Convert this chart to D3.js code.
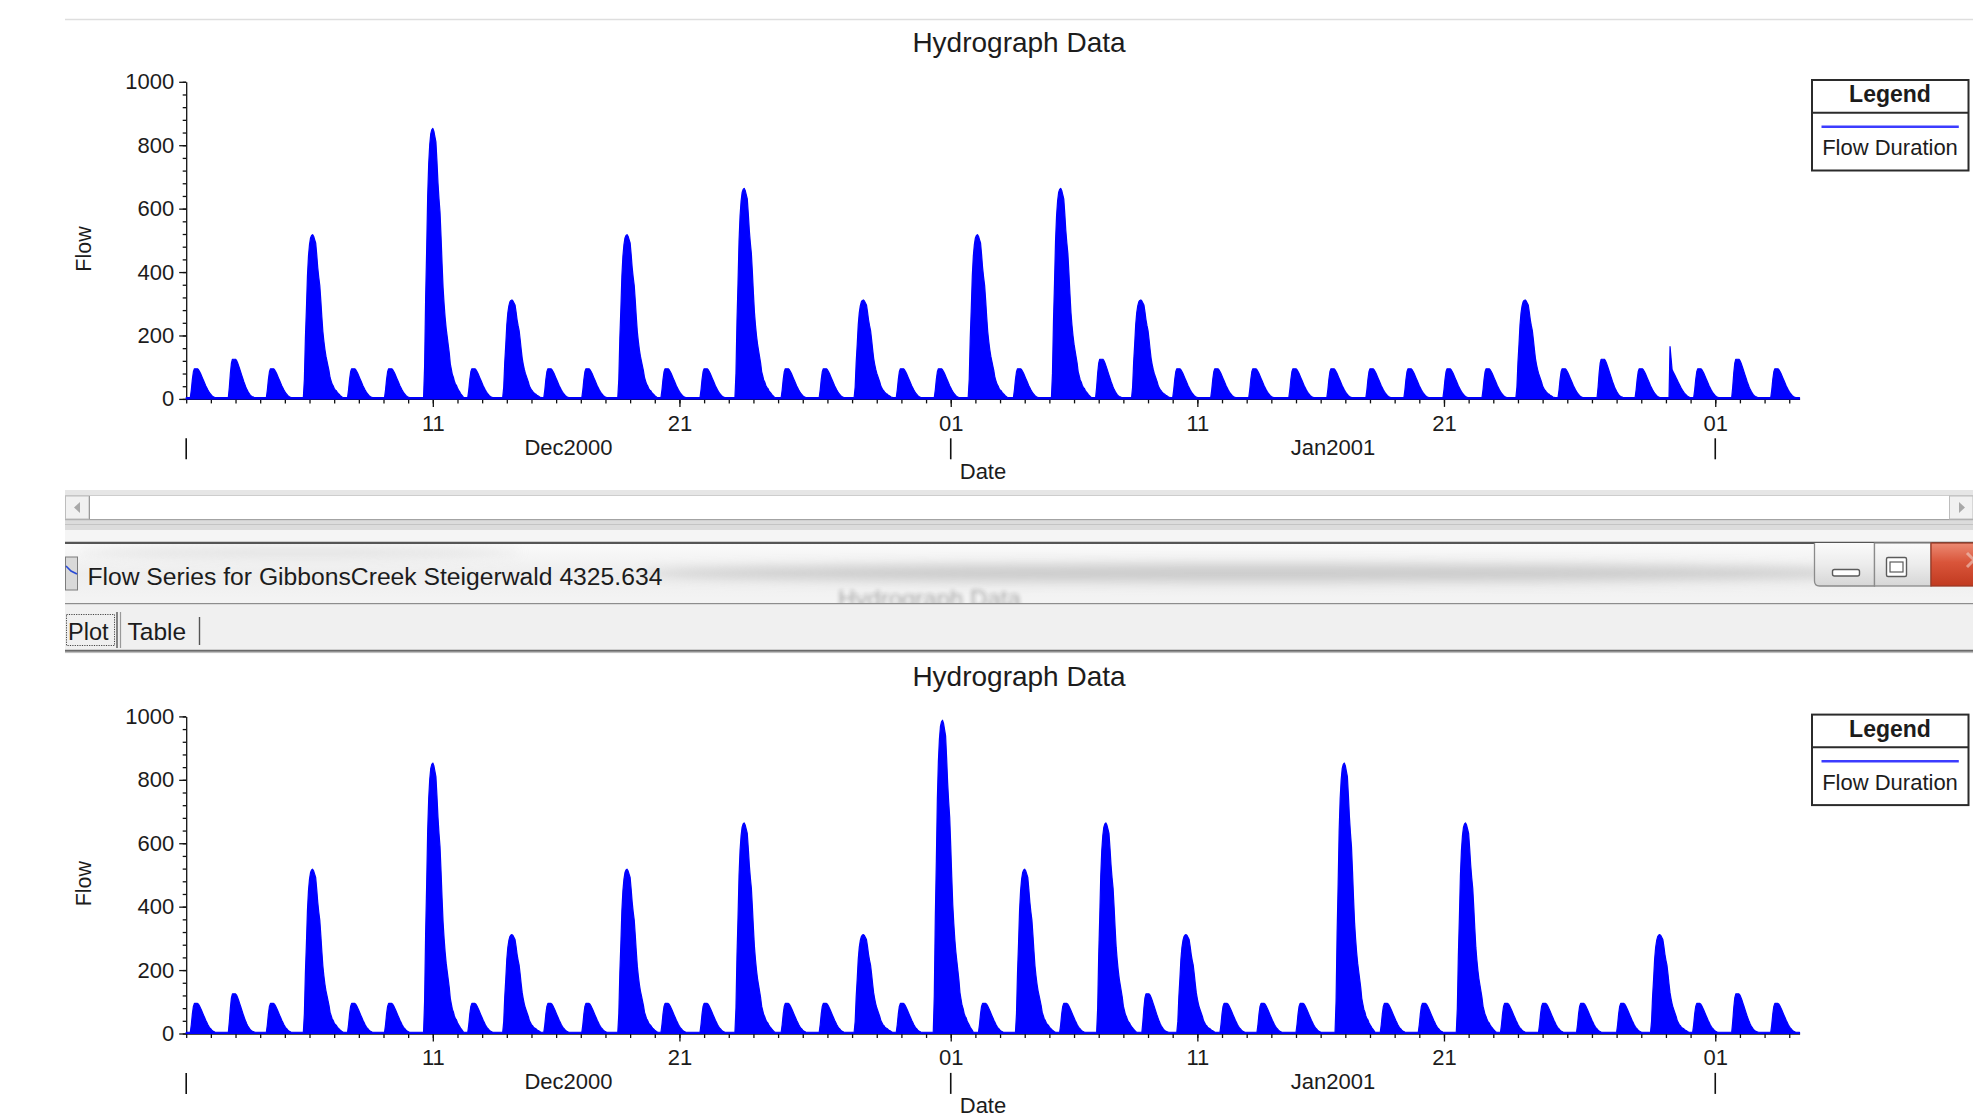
<!DOCTYPE html>
<html lang="en">
<head>
  <meta charset="utf-8" />
  <title>Flow Series for GibbonsCreek Steigerwald 4325.634</title>

  <!---- D3 v7 CDN -->
  <script src="https://cdn.jsdelivr.net/npm/d3@7"></script>

  <style>
    body { margin:0; background:#fff; }
    svg text { font-family:"Liberation Sans", Arial, Helvetica, sans-serif; fill:#1c1c1c; }
    .axis path, .axis line { stroke:#111; stroke-width:1.3; }
    .axis text { font-size:22px; fill:#1c1c1c; }
  </style>
</head>
<body>
<svg id="win" width="1973" height="1113"></svg>

<script>
(function () {

  // --- data ------------------------------------------------------------------
  // days after 01 Dec 2000 where each runoff pulse peaks, and the peak flow
  const topPeakDays  = [0.42, 1.97, 3.51, 5.14, 6.79, 8.31, 9.98, 11.65, 13.19, 14.74,
                        16.30, 17.86, 19.51, 21.10, 22.64, 24.38, 25.92, 27.44, 29.03, 30.57,
                        32.09, 33.78, 35.44, 37.13, 38.69, 40.23, 41.81, 43.35, 44.95, 46.49,
                        48.09, 49.63, 51.19, 52.79, 54.29, 55.89, 57.45, 58.99, 61.38, 62.90,
                        64.48];
  const topPeakFlows = [95, 125, 95, 518, 95, 95, 853, 95, 312, 95,
                        95, 518, 95, 95, 664, 95, 95, 312, 95, 95,
                        518, 95, 664, 125, 312, 95, 95, 95, 95, 95,
                        95, 95, 95, 95, 312, 95, 125, 95, 95, 125,
                        95];
  // the single sharp spike late in January (top plot only)
  const topSpikeDays  = [60.17];
  const topSpikeFlows = [165];

  const botPeakDays  = [0.42, 1.97, 3.51, 5.14, 6.79, 8.31, 9.98, 11.65, 13.19, 14.74,
                        16.30, 17.86, 19.51, 21.10, 22.64, 24.38, 25.92, 27.44, 29.03, 30.66,
                        32.37, 33.99, 35.66, 37.30, 39.01, 40.55, 42.15, 43.65, 45.25, 46.96,
                        48.67, 50.19, 51.88, 53.54, 55.10, 56.64, 58.24, 59.74, 61.34, 62.90,
                        64.48];
  const botPeakFlows = [95, 125, 95, 518, 95, 95, 853, 95, 312, 95,
                        95, 518, 95, 95, 664, 95, 95, 312, 95, 988,
                        95, 518, 95, 664, 125, 312, 95, 95, 95, 853,
                        95, 95, 664, 95, 95, 95, 95, 312, 95, 125,
                        95];
  const botSpikeDays  = [];
  const botSpikeFlows = [];

  // hourly pulse shapes (fraction of peak)
  const shapeSmall = [0.03, 0.3, 0.65, 0.9, 1, 1, 1, 1, 0.97, 0.91, 0.84, 0.76, 0.68, 0.6,
                      0.52, 0.44, 0.37, 0.3, 0.24, 0.19, 0.15, 0.11, 0.08, 0.06, 0.05, 0.04];
  const smallPeakAt = 6;
  const shapeLarge = [0.0, 0.12, 0.37, 0.55, 0.75, 0.87, 0.94, 0.98, 0.995, 1, 0.99, 0.97,
                      0.95, 0.88, 0.8, 0.74, 0.69, 0.6, 0.5, 0.41, 0.35, 0.3, 0.26, 0.23,
                      0.2, 0.17, 0.13, 0.11, 0.09, 0.08, 0.065, 0.055, 0.05, 0.04, 0.033,
                      0.027, 0.02, 0.015, 0.01];
  const largePeakAt = 9;
  const shapeSpike = [0.02, 1, 0.78, 0.56, 0.52, 0.48, 0.44, 0.4, 0.36, 0.32, 0.28, 0.24, 0.2,
                      0.17, 0.14, 0.11, 0.09, 0.07, 0.05, 0.04, 0.03];
  const spikePeakAt = 1;
  const baseFlow = 4;

  const seriesStart = Date.UTC(2000, 11, 1);
  const seriesDays  = 65.42;

  const yTickValues   = [0, 200, 400, 600, 800, 1000];
  const dayLabelDates = ["2000-12-11", "2000-12-21", "2001-01-01", "2001-01-11", "2001-01-21", "2001-02-01"];
  const monthStarts   = ["2000-12-01", "2001-01-01", "2001-02-01"];
  const monthNames    = ["Dec2000", "Jan2001"];

  // --- helpers ---------------------------------------------------------------
  const svg = d3.select("#win");
  const parse = d3.utcParse("%Y-%m-%d");

  function buildSeries(days, flows, spikeDays, spikeFlows) {
    const nHours = Math.floor(seriesDays * 24);
    const vals = new Array(nHours + 1).fill(baseFlow);
    const stamp = (d, f, shape, at) => {
      const h0 = Math.round(d * 24);
      shape.forEach((s, i) => {
        const h = h0 + i - at;
        if (h >= 0 && h <= nHours) vals[h] = Math.max(vals[h], f * s);
      });
    };
    days.forEach((d, i) => {
      const f = flows[i];
      if (f < 200) stamp(d, f, shapeSmall, smallPeakAt);
      else stamp(d, f, shapeLarge, largePeakAt);
    });
    spikeDays.forEach((d, i) => stamp(d, spikeFlows[i], shapeSpike, spikePeakAt));
    return vals.map((v, h) => ({ t: new Date(seriesStart + h * 3600e3), v }));
  }

  // --- scales (shared by both plots) -----------------------------------------
  const plot = { left: 186.2, right: 1799.6, top: 81.8, bottom: 398.9 };
  const x = d3.scaleUtc()
    .domain([new Date(seriesStart), new Date(seriesStart + seriesDays * 864e5)])
    .range([plot.left, plot.right]);
  const y = d3.scaleLinear().domain([0, 1000]).range([plot.bottom, plot.top]);

  const area = d3.area()
    .x(d => x(d.t))
    .y0(y(0))
    .y1(d => y(d.v));

  // --- one "Hydrograph Data" panel -------------------------------------------
  function drawPanel(dy, series) {
    const g = svg.append("g").attr("transform", `translate(0,${dy})`);

    g.append("text")
      .attr("x", 1019).attr("y", 51.7)
      .attr("text-anchor", "middle")
      .attr("font-size", 28)
      .text("Hydrograph Data");

    // y axis: minor then major
    g.append("g").attr("class", "axis")
      .attr("transform", `translate(${plot.left},0)`)
      .call(d3.axisLeft(y).tickValues(d3.range(0, 1001, 40)).tickSize(3.5).tickFormat(""))
      .call(a => a.select(".domain").remove());
    g.append("g").attr("class", "axis")
      .attr("transform", `translate(${plot.left},0)`)
      .call(d3.axisLeft(y).tickValues(yTickValues).tickSize(7).tickSizeOuter(0)
        .tickPadding(5).tickFormat(d3.format("d")));

    // x axis: daily ticks, then labelled 10-day ticks
    const [d0, d1] = x.domain();
    g.append("g").attr("class", "axis")
      .attr("transform", `translate(0,${plot.bottom})`)
      .call(d3.axisBottom(x).tickValues(d3.utcDay.range(d0, d1)).tickSize(4.5).tickSizeOuter(0).tickFormat(""));
    g.append("g").attr("class", "axis")
      .attr("transform", `translate(0,${plot.bottom})`)
      .call(d3.axisBottom(x).tickValues(dayLabelDates.map(parse)).tickSize(8)
        .tickPadding(8).tickFormat(d3.utcFormat("%d")))
      .call(a => a.select(".domain").remove());

    // month boundary marks + month names
    g.selectAll(".mtick").data(monthStarts.map(parse)).join("line")
      .attr("x1", d => x(d)).attr("x2", d => x(d))
      .attr("y1", 438.3).attr("y2", 459.3)
      .attr("stroke", "#111").attr("stroke-width", 1.6);

    g.selectAll(".mname").data(monthNames).join("text")
      .attr("x", (d, i) => {
        const a = Math.max(x(parse(monthStarts[i])), plot.left);
        const b = Math.min(x(parse(monthStarts[i + 1])), plot.right);
        return (a + b) / 2;
      })
      .attr("y", 454.8)
      .attr("text-anchor", "middle")
      .attr("font-size", 22)
      .text(d => d);

    g.append("text")
      .attr("x", 983).attr("y", 478.5)
      .attr("text-anchor", "middle").attr("font-size", 22)
      .text("Date");

    g.append("text")
      .attr("transform", "translate(90.8,249) rotate(-90)")
      .attr("text-anchor", "middle").attr("font-size", 21.5)
      .text("Flow");

    // the flow series
    g.append("path")
      .datum(series)
      .attr("d", area)
      .attr("fill", "#0000ff")
      .attr("stroke", "#0000ff")
      .attr("stroke-width", 1.2)
      .attr("stroke-linejoin", "round");

    // legend
    const lg = g.append("g");
    lg.append("rect")
      .attr("x", 1812).attr("y", 80).attr("width", 156.5).attr("height", 90.5)
      .attr("fill", "#fff").attr("stroke", "#2b2b2b").attr("stroke-width", 2);
    lg.append("line")
      .attr("x1", 1812).attr("x2", 1968.5).attr("y1", 112.7).attr("y2", 112.7)
      .attr("stroke", "#2b2b2b").attr("stroke-width", 2);
    lg.append("text")
      .attr("x", 1890).attr("y", 102)
      .attr("text-anchor", "middle").attr("font-size", 23).attr("font-weight", "bold")
      .text("Legend");
    lg.append("line")
      .attr("x1", 1821.5).attr("x2", 1958.8).attr("y1", 126.7).attr("y2", 126.7)
      .attr("stroke", "#3c3cff").attr("stroke-width", 2.4);
    lg.append("text")
      .attr("x", 1890).attr("y", 155)
      .attr("text-anchor", "middle").attr("font-size", 22)
      .text("Flow Duration");
  }

  // --- window chrome between the two plots ---------------------------------
  const defs = svg.append("defs");
  const grad = (id, stops) => {
    const lgd = defs.append("linearGradient").attr("id", id)
      .attr("x1", 0).attr("y1", 0).attr("x2", 0).attr("y2", 1);
    stops.forEach(([o, c]) => lgd.append("stop").attr("offset", o).attr("stop-color", c));
  };
  grad("barGrad",   [[0, "#fafafa"], [0.5, "#eeeeee"], [1, "#f4f4f4"]]);
  grad("btnGrad",   [[0, "#fbfbfb"], [0.5, "#ececec"], [1, "#d6d6d6"]]);
  grad("closeGrad", [[0, "#ec8a73"], [0.45, "#d9553a"], [1, "#c13a20"]]);
  defs.append("filter").attr("id", "blur")
    .attr("x", "-20%").attr("y", "-200%").attr("width", "140%").attr("height", "500%")
    .append("feGaussianBlur").attr("stdDeviation", 6);
  defs.append("filter").attr("id", "blurTxt")
    .append("feGaussianBlur").attr("stdDeviation", 2.2);
  defs.append("clipPath").attr("id", "barClip")
    .append("rect").attr("x", 65).attr("y", 544).attr("width", 1908).attr("height", 59.5);

  const ui = svg.append("g");
  const hline = (y0, c, w) => ui.append("line")
    .attr("x1", 65).attr("x2", 1973).attr("y1", y0).attr("y2", y0)
    .attr("stroke", c).attr("stroke-width", w);

  // thin separator above the first plot
  hline(19.5, "#dedede", 1.5);

  // horizontal scroll bar
  ui.append("rect").attr("x", 65).attr("y", 490).attr("width", 1908).attr("height", 31).attr("fill", "#fff");
  ui.append("rect").attr("x", 65).attr("y", 490).attr("width", 1908).attr("height", 5).attr("fill", "#e6e6e6");
  hline(495.5, "#cdcdcd", 1);
  hline(519.8, "#a3a3a3", 1.4);
  ui.append("rect").attr("x", 65.5).attr("y", 496).attr("width", 23.5).attr("height", 23)
    .attr("fill", "#f1f1f1").attr("stroke", "#bdbdbd");
  ui.append("rect").attr("x", 1949.5).attr("y", 496).attr("width", 23.5).attr("height", 23)
    .attr("fill", "#f1f1f1").attr("stroke", "#bdbdbd");
  ui.append("path").attr("d", "M80,502 L74,507.5 L80,513 Z").attr("fill", "#a8a8a8");
  ui.append("path").attr("d", "M1959,502 L1965,507.5 L1959,513 Z").attr("fill", "#a8a8a8");
  ui.append("line").attr("x1", 89.5).attr("x2", 89.5).attr("y1", 496).attr("y2", 519)
    .attr("stroke", "#9a9a9a");

  // frame lines below the scroll bar
  ui.append("rect").attr("x", 65).attr("y", 521).attr("width", 1908).attr("height", 9).attr("fill", "#dcdcdc");
  hline(524.5, "#c4c4c4", 1);
  ui.append("rect").attr("x", 65).attr("y", 530).attr("width", 1908).attr("height", 12).attr("fill", "#f5f5f5");
  hline(542.8, "#555", 2.2);

  // title bar (blurred glass)
  ui.append("rect").attr("x", 65).attr("y", 544).attr("width", 1908).attr("height", 59.5).attr("fill", "url(#barGrad)");
  const glass = ui.append("g").attr("clip-path", "url(#barClip)");
  glass.append("ellipse").attr("cx", 1260).attr("cy", 573).attr("rx", 620).attr("ry", 9)
    .attr("fill", "#a8a8a8").attr("opacity", 0.5).attr("filter", "url(#blur)");
  glass.append("ellipse").attr("cx", 300).attr("cy", 552).attr("rx", 220).attr("ry", 6)
    .attr("fill", "#cfcfcf").attr("opacity", 0.5).attr("filter", "url(#blur)");
  glass.append("text")
    .attr("x", 838).attr("y", 607).attr("font-size", 24).attr("fill", "#8a8a8a")
    .attr("opacity", 0.35).attr("filter", "url(#blurTxt)")
    .text("Hydrograph Data");
  hline(603.8, "#8d8d8d", 1.4);

  // window icon + caption
  ui.append("rect").attr("x", 65.5).attr("y", 557).attr("width", 12).attr("height", 33)
    .attr("fill", "#d9d9d9").attr("stroke", "#7d7d7d");
  ui.append("path").attr("d", "M66,566 L71,571 L77,574").attr("fill", "none")
    .attr("stroke", "#2a4bd6").attr("stroke-width", 1.6);
  ui.append("text")
    .attr("x", 87.4).attr("y", 585.3).attr("font-size", 24.7).attr("fill", "#111")
    .text("Flow Series for GibbonsCreek Steigerwald 4325.634");

  // caption buttons
  ui.append("path")
    .attr("d", "M1814.5,543 V581 Q1814.5,586 1819.5,586 H1874.5 V543")
    .attr("fill", "url(#btnGrad)").attr("stroke", "#8b8b8b").attr("stroke-width", 1.3);
  ui.append("rect").attr("x", 1874.5).attr("y", 543).attr("width", 56.5).attr("height", 43)
    .attr("fill", "url(#btnGrad)").attr("stroke", "#8b8b8b").attr("stroke-width", 1.3);
  ui.append("rect").attr("x", 1931).attr("y", 543).attr("width", 44).attr("height", 43)
    .attr("fill", "url(#closeGrad)").attr("stroke", "#9b3a26").attr("stroke-width", 1.3);
  ui.append("rect").attr("x", 1832.5).attr("y", 569.5).attr("width", 27).attr("height", 6.5).attr("rx", 2)
    .attr("fill", "#fff").attr("stroke", "#5b5b5b").attr("stroke-width", 1.4);
  ui.append("rect").attr("x", 1886.5).attr("y", 557.5).attr("width", 20).attr("height", 19).attr("rx", 1.5)
    .attr("fill", "#fff").attr("stroke", "#5b5b5b").attr("stroke-width", 1.4);
  ui.append("rect").attr("x", 1890).attr("y", 562).attr("width", 13).attr("height", 10)
    .attr("fill", "none").attr("stroke", "#5b5b5b").attr("stroke-width", 1.2);
  ui.append("path").attr("d", "M1967,553 L1981,567 M1967,567 L1981,553")
    .attr("stroke", "#f0cfc6").attr("stroke-width", 3).attr("opacity", 0.6);

  // tab strip
  ui.append("rect").attr("x", 65).attr("y", 604.5).attr("width", 1908).attr("height", 46).attr("fill", "#f0f0f0");
  hline(650.8, "#6a6a6a", 2);
  hline(652.6, "#b9b9b9", 1);
  ui.append("rect").attr("x", 66.5).attr("y", 614.5).attr("width", 48).attr("height", 31)
    .attr("fill", "none").attr("stroke", "#444").attr("stroke-dasharray", "1.2,1.2");
  ui.append("line").attr("x1", 117).attr("x2", 117).attr("y1", 612).attr("y2", 648).attr("stroke", "#555").attr("stroke-width", 1.4);
  ui.append("line").attr("x1", 120.5).attr("x2", 120.5).attr("y1", 612).attr("y2", 648).attr("stroke", "#999").attr("stroke-width", 1.2);
  ui.append("line").attr("x1", 199.5).attr("x2", 199.5).attr("y1", 617).attr("y2", 645).attr("stroke", "#555").attr("stroke-width", 1.4);
  ui.append("text").attr("x", 68).attr("y", 640.3).attr("font-size", 23.5).attr("fill", "#111").text("Plot");
  ui.append("text").attr("x", 127.5).attr("y", 640.3).attr("font-size", 24.5).attr("fill", "#111").text("Table");

  // --- draw both plots ------------------------------------------------------
  drawPanel(0, buildSeries(topPeakDays, topPeakFlows, topSpikeDays, topSpikeFlows));
  drawPanel(634.6, buildSeries(botPeakDays, botPeakFlows, botSpikeDays, botSpikeFlows));

})();
</script>
</body>
</html>
